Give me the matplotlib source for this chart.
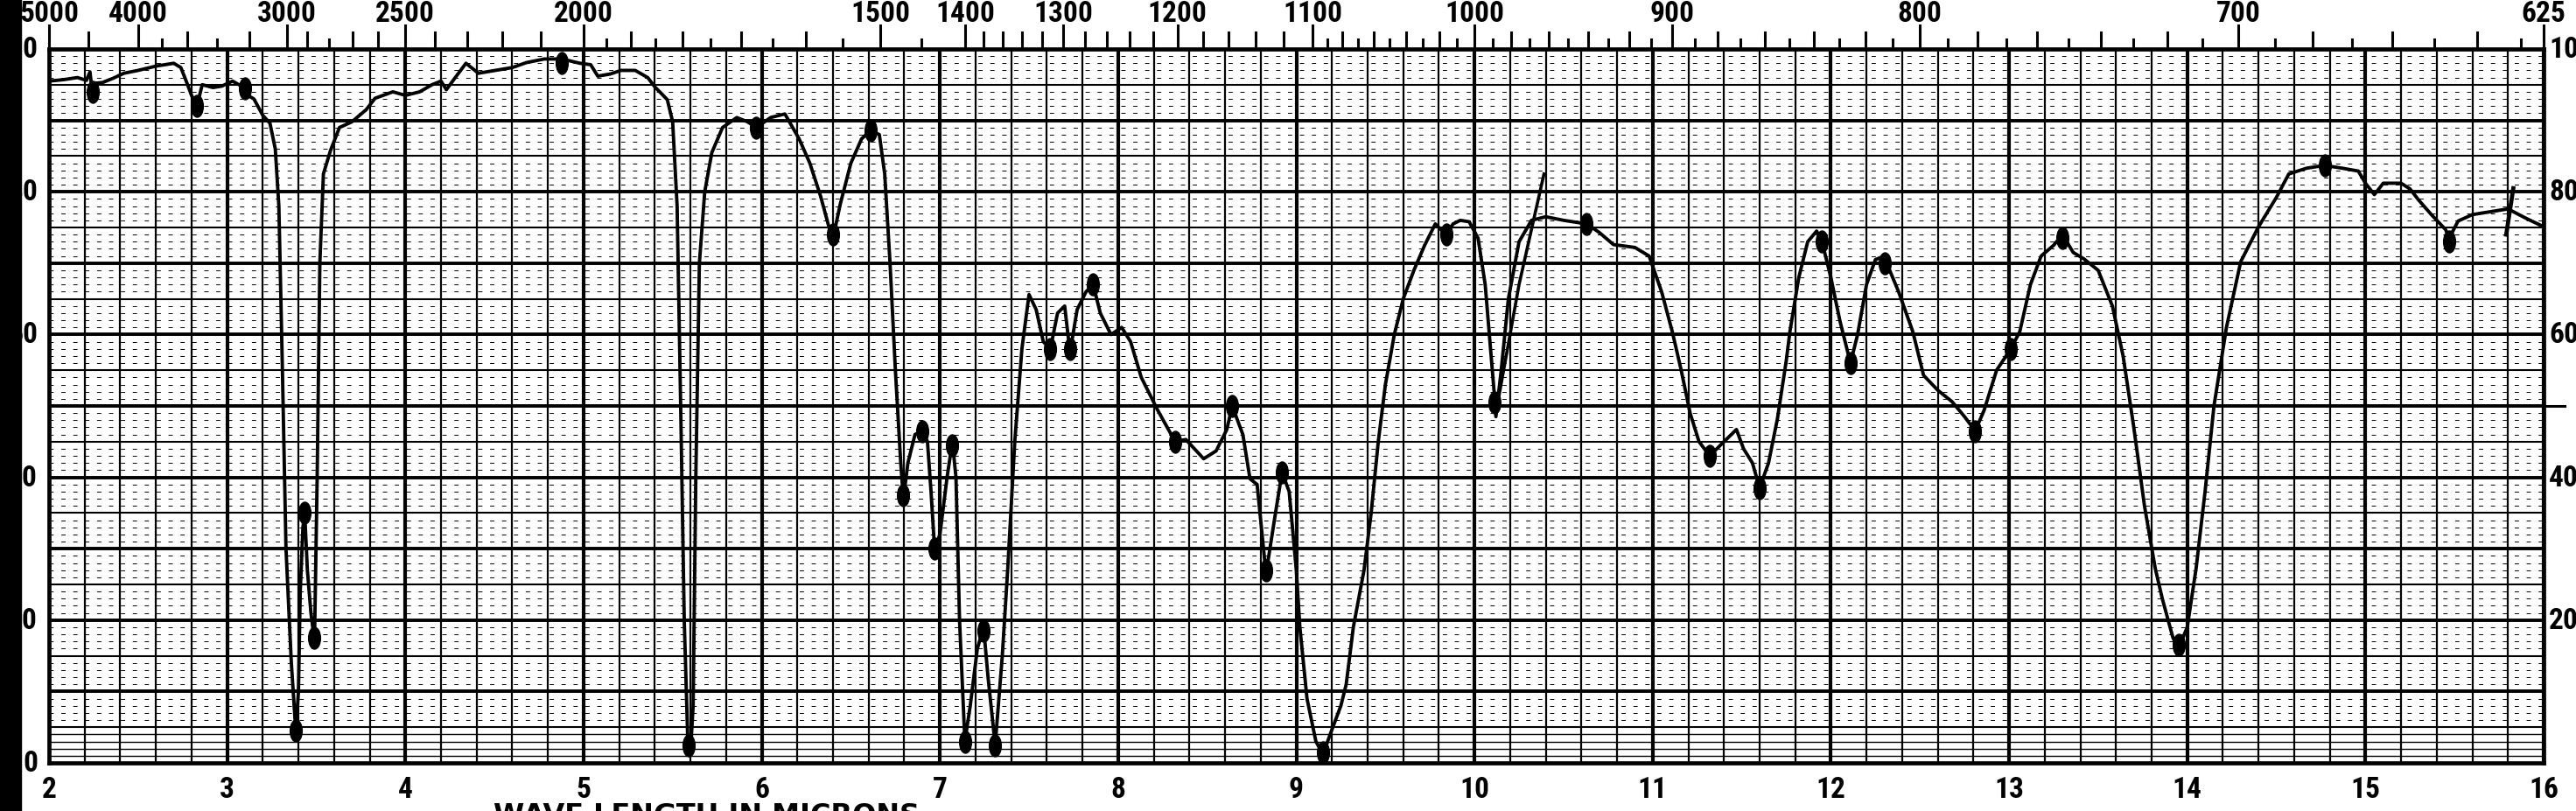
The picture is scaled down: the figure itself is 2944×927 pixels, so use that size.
"""IR spectrum chart (scanned chart paper look)."""

import numpy as np
import matplotlib
matplotlib.use('Agg')
import matplotlib.pyplot as plt
from matplotlib import font_manager
from matplotlib.path import Path
from matplotlib.patches import Rectangle

# spectrum trace: wavelength in microns, transmittance in percent
wl = [2.00, 2.08, 2.16, 2.21, 2.23, 2.245, 2.26, 2.30, 2.36, 2.42, 2.50, 2.60, 2.70, 2.74,
      2.77, 2.80, 2.83, 2.86, 2.92, 2.97, 3.03, 3.08, 3.11, 3.15, 3.20, 3.24, 3.27, 3.29,
      3.31, 3.33, 3.36, 3.385, 3.40, 3.41, 3.425, 3.435, 3.45, 3.47, 3.49, 3.505, 3.52, 3.54,
      3.58, 3.63, 3.70, 3.78, 3.83, 3.93, 4.00, 4.08, 4.15, 4.20, 4.23, 4.28, 4.34, 4.41,
      4.48, 4.60, 4.68, 4.78, 4.88, 4.98, 5.04, 5.08, 5.15, 5.21, 5.29, 5.36, 5.40, 5.47,
      5.50, 5.525, 5.545, 5.565, 5.585, 5.60, 5.615, 5.63, 5.65, 5.68, 5.72, 5.78, 5.86,
      5.92, 5.97, 6.05, 6.13, 6.21, 6.27, 6.33, 6.38, 6.40, 6.44, 6.50, 6.56, 6.61, 6.66,
      6.69, 6.72, 6.75, 6.78, 6.795, 6.82, 6.86, 6.90, 6.93, 6.95, 6.97, 7.00, 7.04, 7.07,
      7.09, 7.11, 7.14, 7.17, 7.21, 7.245, 7.27, 7.31, 7.35, 7.38, 7.42, 7.46, 7.50, 7.54,
      7.58, 7.62, 7.66, 7.70, 7.73, 7.77, 7.82, 7.86, 7.90, 7.96, 8.02, 8.07, 8.13, 8.22,
      8.32, 8.38, 8.48, 8.55, 8.61, 8.64, 8.70, 8.74, 8.78, 8.83, 8.88, 8.92, 8.96, 9.00,
      9.02, 9.06, 9.11, 9.15, 9.19, 9.25, 9.28, 9.32, 9.38, 9.42, 9.46, 9.50, 9.55, 9.60,
      9.66, 9.72, 9.78, 9.84, 9.88, 9.92, 9.97, 10.02, 10.06, 10.09, 10.11, 10.12, 10.15,
      10.19, 10.25, 10.32, 10.40, 10.50, 10.63, 10.70, 10.78, 10.90, 10.98, 11.05, 11.11,
      11.16, 11.21, 11.26, 11.32, 11.38, 11.47, 11.51, 11.56, 11.60, 11.65, 11.70, 11.75,
      11.77, 11.82, 11.87, 11.92, 11.95, 12.00, 12.05, 12.11, 12.15, 12.20, 12.25, 12.30,
      12.33, 12.38, 12.46, 12.52, 12.60, 12.68, 12.75, 12.81, 12.86, 12.93, 13.01, 13.06,
      13.12, 13.18, 13.25, 13.30, 13.36, 13.42, 13.50, 13.58, 13.64, 13.70, 13.76, 13.82,
      13.86, 13.92, 13.95, 14.00, 14.05, 14.10, 14.15, 14.22, 14.30, 14.40, 14.50, 14.57,
      14.67, 14.77, 14.87, 14.96, 15.00, 15.05, 15.10, 15.20, 15.25, 15.30, 15.37, 15.45,
      15.47, 15.52, 15.60, 15.70, 15.80, 15.90, 16.00]
tr = [95.5, 95.7, 96.0, 95.6, 96.8, 93.5, 95.2, 95.3, 95.9, 96.6, 97.0, 97.6, 98.0, 97.4,
      95.5, 93.5, 92.0, 95.0, 94.6, 94.8, 95.5, 94.8, 93.6, 93.0, 90.7, 89.6, 86.0, 78.0,
      55.0, 30.0, 14.0, 4.5, 10.0, 24.0, 33.0, 35.0, 27.0, 21.0, 17.0, 40.0, 70.0, 82.5,
      85.8, 89.0, 89.8, 91.5, 93.1, 94.0, 93.5, 94.0, 95.0, 95.5, 94.3, 96.0, 98.0, 96.6,
      96.9, 97.4, 98.1, 98.6, 98.6, 98.0, 97.8, 96.2, 96.5, 97.0, 97.0, 96.0, 94.7, 92.9,
      89.8, 78.0, 50.0, 20.0, 3.0, 1.5, 8.0, 40.0, 70.0, 80.0, 85.5, 89.0, 90.4,
      89.8, 89.0, 90.4, 90.9, 87.4, 84.0, 79.4, 74.8, 73.5, 78.2, 84.0, 87.4, 88.6, 88.0,
      82.5, 70.0, 55.0, 42.0, 37.0, 42.0, 46.0, 46.5, 45.0, 38.0, 30.0, 32.0, 40.0, 45.0,
      40.0, 20.0, 3.0, 8.0, 16.0, 19.0, 12.0, 2.5, 15.0, 27.0, 45.0, 58.0, 65.6, 63.5,
      59.0, 58.0, 63.0, 64.0, 57.5, 63.5, 66.0, 67.0, 63.0, 60.0, 61.0, 59.0, 54.0, 49.5,
      45.0, 45.3, 42.6, 43.7, 46.7, 50.0, 46.0, 39.8, 39.0, 26.5, 34.5, 40.7, 38.0, 27.0,
      19.0, 9.0, 3.0, 1.2, 4.0, 8.0, 11.0, 19.0, 27.0, 35.0, 45.0, 53.0, 60.0, 65.0,
      69.0, 72.5, 75.5, 74.0, 75.5, 76.0, 75.8, 73.5, 67.0, 58.0, 52.0, 48.5, 55.0,
      65.0, 73.0, 76.0, 76.5, 76.0, 75.5, 74.3, 72.6, 72.2, 71.0, 66.0, 60.4,
      55.0, 49.0, 45.0, 43.0, 44.5, 46.7, 44.0, 42.0, 38.5, 42.0, 48.2, 56.4,
      60.4, 68.0, 73.0, 74.5, 73.0, 68.0, 62.0, 56.0, 60.0, 67.0, 70.5, 71.0,
      69.0, 66.0, 60.4, 54.3, 52.2, 50.6, 48.5, 46.5, 49.4, 55.0, 58.0, 60.4,
      67.0, 71.0, 72.5, 74.0, 71.5, 70.6, 69.0, 64.0, 57.0, 47.0, 36.0, 27.3,
      23.0, 17.5, 16.0, 19.0, 27.3, 38.0, 50.0, 61.0, 70.2, 75.1, 79.2, 82.5,
      83.3, 83.7, 83.3, 82.9, 81.2, 79.6, 81.2, 81.2, 80.4, 78.8, 76.8, 74.7,
      73.5, 75.9, 76.8, 77.2, 77.6, 76.3, 75.1]

# ink blobs where the pen marked the bands
blob_wl = [2.245, 2.83, 3.10, 3.385, 3.435, 3.49, 4.88, 5.59, 5.97, 6.40, 6.61, 6.795,
           6.90, 6.97, 7.07, 7.14, 7.245, 7.31, 7.62, 7.73, 7.86, 8.32, 8.64, 8.83, 8.92, 9.15,
           9.84, 10.11, 10.63, 11.32, 11.60, 11.95, 12.11, 12.30, 12.81, 13.01, 13.30,
           13.95, 14.77, 15.47]
blob_tr = [94.0, 92.0, 94.5, 4.5, 35.0, 17.5, 98.0, 2.5, 89.0, 74.0, 88.6, 37.5,
           46.5, 30.0, 44.5, 3.0, 18.5, 2.5, 58.0, 58.0, 67.0, 45.0, 50.0, 27.0, 40.7, 1.5,
           74.0, 50.5, 75.5, 43.0, 38.5, 73.0, 56.0, 70.0, 46.5, 58.0, 73.5,
           16.5, 83.7, 73.0]

# stray pen strokes
stray_a_wl = [10.12, 10.25, 10.39]
stray_a_tr = [49.0, 67.0, 82.5]
stray_b_wl = [15.79, 15.83]
stray_b_tr = [74.0, 80.5]

# top wavenumber scale (cm-1)
top_labels = [5000, 4000, 3000, 2500, 2000, 1500, 1400, 1300, 1200, 1100, 1000, 900, 800, 700, 625]
top_mid = ([4500, 3600, 3200, 2900, 2700, 2600, 2400, 2300, 2200, 2100,
            1900, 1800, 1700, 1600, 1380, 1360, 1340, 1320, 1280, 1260, 1240, 1220,
            1180, 1160, 1140, 1120]
           + [w for w in range(1080, 630, -20) if w not in (1000, 900, 800, 700)])
top_short = ([3800, 3400, 2800, 1950, 1850, 1750, 1650, 1550, 1450]
             + list(range(1090, 625, -20)))

bottom_labels = list(range(2, 17))
left_labels = [0, 20, 40, 60, 80, 100]
right_labels = [20, 40, 60, 80, 100]


def pick_font():
    have = {f.name for f in font_manager.fontManager.ttflist}
    for name in ['Liberation Sans Narrow', 'DejaVu Sans Condensed', 'Roboto Condensed', 'Open Sans Condensed']:
        if name in have:
            return [name, 'DejaVu Sans'], True
    return ['DejaVu Sans'], False


def main():
    W, H = 2944, 928
    L, R, B, T = 56, 2907, 873, 57
    fig = plt.figure(figsize=(W / 100, H / 100), dpi=100)
    ax = fig.add_axes([L / W, (H - B) / H, (R - L) / W, (B - T) / H])
    ax.set_xlim(2, 16)
    ax.set_ylim(0, 100)
    fnt, narrow = pick_font()
    fs = 24 if narrow else 20

    # chart paper grid
    for x in np.arange(2.0, 16.01, 0.2):
        major = abs(x - round(x)) < 1e-6
        ax.axvline(x, color='black', lw=3.0 if major else 1.6, zorder=1)
    for y in range(5, 100, 5):
        ax.axhline(y, color='black', lw=2.8 if y % 10 == 0 else 1.5, zorder=1)
    for y in range(1, 100):
        if y % 5 == 0:
            continue
        if y < 5:
            ax.axhline(y, color='black', lw=1.0, zorder=1)
        else:
            ax.axhline(y, color='black', lw=0.7, dashes=(5, 9), zorder=1)
    ax.set_xticks([])
    ax.set_yticks([])
    for s in ax.spines.values():
        s.set_linewidth(3.4)

    # trace
    ax.plot(wl, tr, color='black', lw=2.8, solid_joinstyle='round', zorder=3)
    ax.plot(stray_a_wl, stray_a_tr, color='black', lw=2.6, zorder=3)
    ax.plot(stray_b_wl, stray_b_tr, color='black', lw=3.4, zorder=3)
    circ = Path.unit_circle()
    blob = Path(circ.vertices * np.array([0.55, 1.0]), circ.codes)
    ax.plot(blob_wl, blob_tr, ls='none', marker=blob, ms=18, color='black', zorder=4)

    # top wavenumber ticks and labels
    ax_h = B - T
    xt = ax.get_xaxis_transform()
    for wn in top_labels:
        ax.plot([1e4 / wn] * 2, [1.0, 1.0 + 27 / ax_h], transform=xt, color='black', lw=2.2, clip_on=False)
        ax.text(1e4 / wn, 1.0 + (B - 16 - ax_h) / ax_h, str(wn), transform=xt, ha='center', va='center',
                fontsize=fs, fontweight='bold', family=fnt)
    for wn in top_mid:
        ax.plot([1e4 / wn] * 2, [1.0, 1.0 + 19 / ax_h], transform=xt, color='black', lw=2.2, clip_on=False)
    for wn in top_short:
        ax.plot([1e4 / wn] * 2, [1.0, 1.0 + 11 / ax_h], transform=xt, color='black', lw=2.2, clip_on=False)

    # bottom micron labels
    for m in bottom_labels:
        ax.text(m, (B - 903) / ax_h, str(m), transform=xt, ha='center', va='center',
                fontsize=fs, fontweight='bold', family=fnt)
    ax.text(5.69, (B - 917) / ax_h, 'WAVE LENGTH IN MICRONS', transform=xt, ha='center', va='top',
            fontsize=23, fontweight='bold')

    # percent labels
    yt = ax.get_yaxis_transform()
    for v in left_labels:
        ax.text((43 - L) / (R - L), v, str(v), transform=yt, ha='right', va='center',
                fontsize=fs, fontweight='bold', family=fnt)
    for v in right_labels:
        ax.text((2913 - L) / (R - L), v, str(v), transform=yt, ha='left', va='center',
                fontsize=fs, fontweight='bold', family=fnt)
    ax.plot([1.0, 1.0 + 24 / (R - L)], [50, 50], transform=yt, color='black', lw=2.2, clip_on=False)

    # dark scan edge on the left
    fig.add_artist(Rectangle((0, 0), 24 / W, 1, transform=fig.transFigure, color='black', zorder=10))

    fig.savefig('out.png', dpi=100, facecolor='white')


if __name__ == "__main__":
    main()
